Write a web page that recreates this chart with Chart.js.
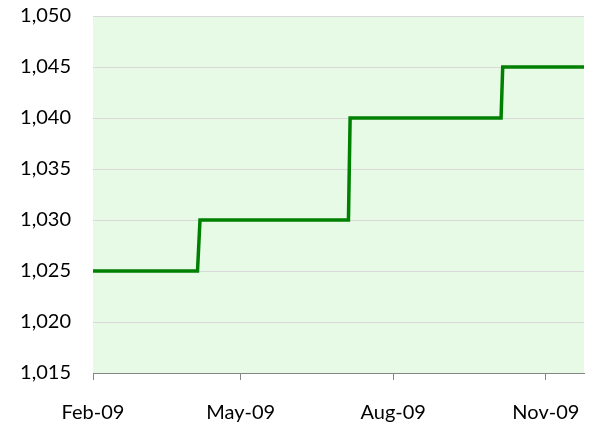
<!DOCTYPE html>
<html>
<head>
<meta charset="utf-8">
<script src="https://cdn.jsdelivr.net/npm/chart.js@4/dist/chart.umd.min.js"></script>
<style>
  html, body { margin: 0; padding: 0; background: #fff; }
  #wrap { width: 596px; height: 428px; }
</style>
</head>
<body>
<div id="wrap"><canvas id="stepChart" width="596" height="428"></canvas></div>
<script>
// days counted from 1 Feb 2009
const stepDays = [0, 63, 64.5, 154, 155, 246, 247, 296];
const stepValues = [1025, 1025, 1030, 1030, 1040, 1040, 1045, 1045];
const tickDays = [0, 89, 181, 273];
const tickLabels = ['Feb-09', 'May-09', 'Aug-09', 'Nov-09'];

const plotBg = {
    id: 'plotBg',
    beforeDraw(chart) {
        const a = chart.chartArea;
        const c = chart.ctx;
        c.save();
        c.fillStyle = '#e6fae6';
        c.fillRect(a.left, a.top, a.right - a.left, a.bottom - a.top);
        c.restore();
    }
};

const font = { family: 'Lato, "Open Sans", sans-serif', size: 20 };

new Chart(document.getElementById('stepChart'), {
    type: 'line',
    data: {
        datasets: [{
            data: stepDays.map((d, i) => ({ x: d, y: stepValues[i] })),
            borderColor: '#008000',
            borderWidth: 3.5,
            pointRadius: 0,
            tension: 0,
            fill: false
        }]
    },
    options: {
        responsive: false,
        animation: false,
        layout: { padding: { top: 16, right: 12, left: 0, bottom: 0 } },
        plugins: { legend: { display: false }, tooltip: { enabled: false } },
        scales: {
            x: {
                type: 'linear',
                min: 0,
                max: 296,
                afterBuildTicks: s => { s.ticks = tickDays.map(v => ({ value: v })); },
                afterFit: s => { s.height = 55; s.paddingLeft = 0; s.paddingRight = 0; },
                ticks: {
                    font: font,
                    color: '#000',
                    padding: 21,
                    maxRotation: 0,
                    autoSkip: false,
                    callback: v => tickLabels[tickDays.indexOf(v)]
                },
                grid: { drawOnChartArea: false, drawTicks: true, tickLength: 7, color: '#868686' },
                border: { color: '#868686', width: 1 }
            },
            y: {
                min: 1015,
                max: 1050,
                afterFit: s => { s.width = 93; s.paddingTop = 0; s.paddingBottom = 0; },
                ticks: {
                    stepSize: 5,
                    font: font,
                    color: '#000',
                    padding: 22,
                    callback: v => v.toLocaleString('en-US')
                },
                grid: { color: '#d9d9d9', drawTicks: false },
                border: { display: false }
            }
        }
    },
    plugins: [plotBg]
});
</script>
</body>
</html>
